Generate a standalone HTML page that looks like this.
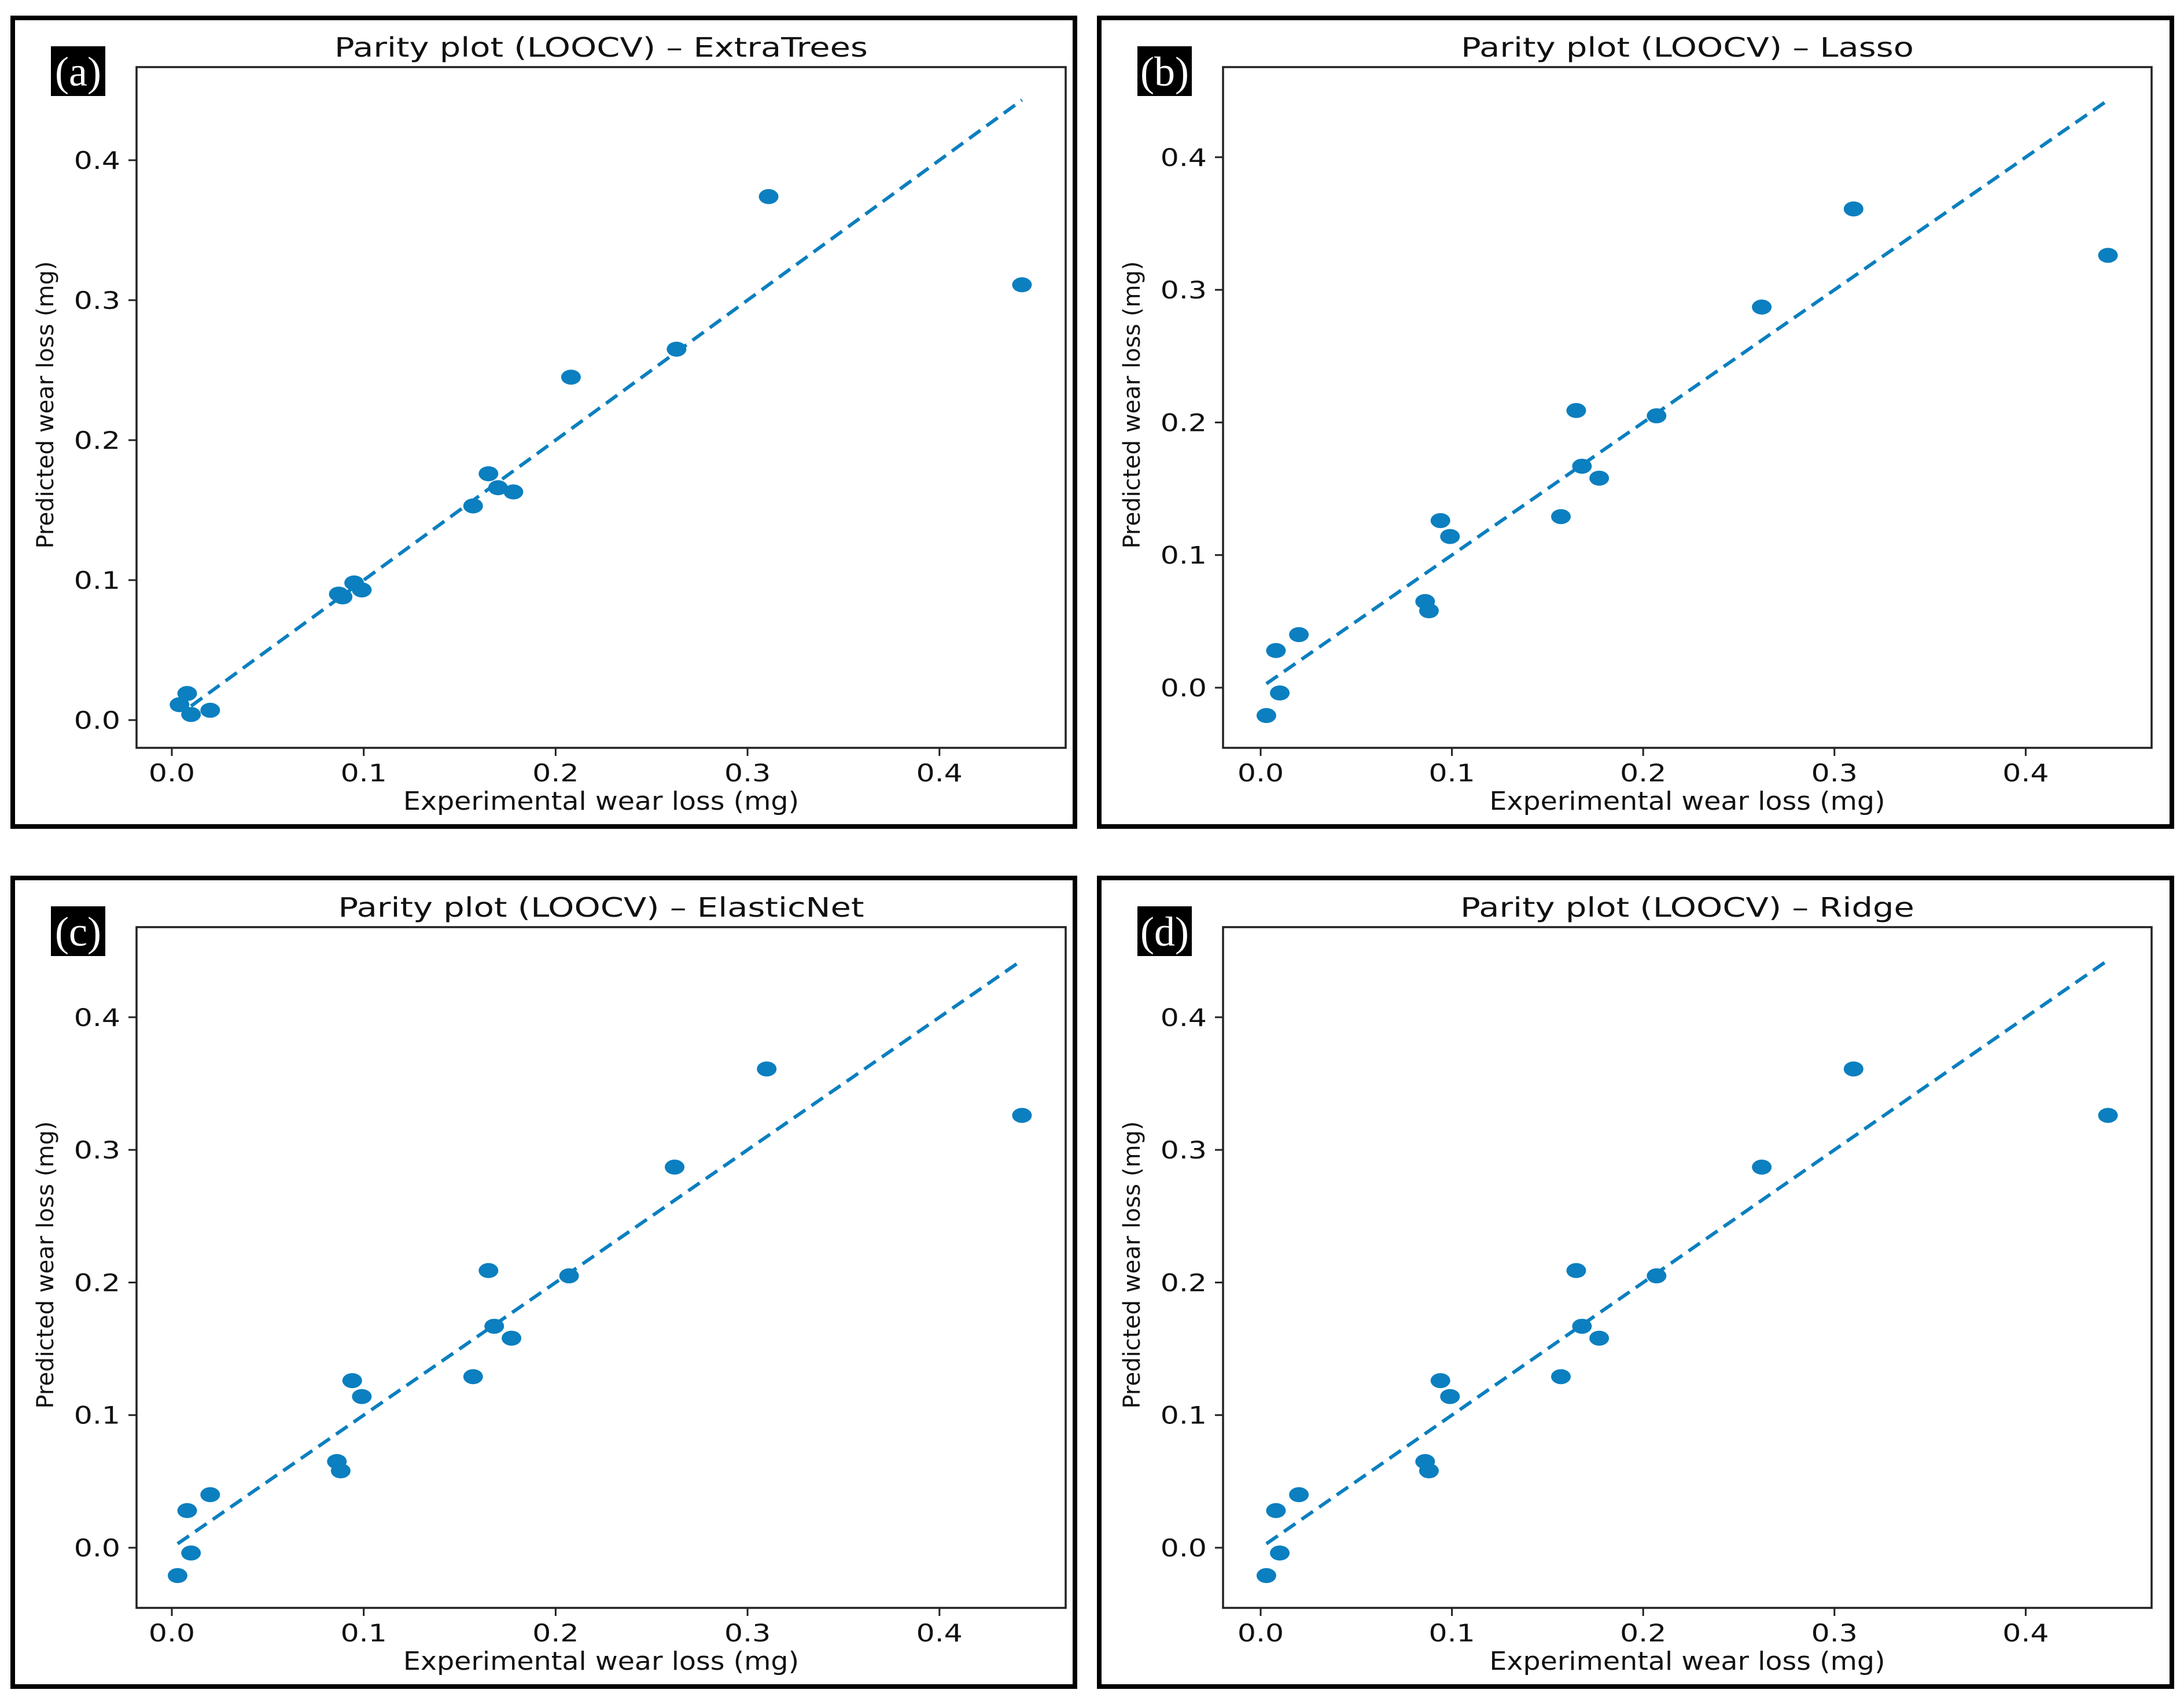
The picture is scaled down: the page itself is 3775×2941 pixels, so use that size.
<!DOCTYPE html>
<html><head><meta charset="utf-8"><style>
html,body{margin:0;padding:0;background:#fff;}
svg{display:block;}
text{font-family:"DejaVu Sans","Liberation Sans",sans-serif;fill:#111;}
</style></head><body>
<svg id="fig" width="3775" height="2941" viewBox="0 0 3775 2941" xmlns="http://www.w3.org/2000/svg"></svg>
<script>
// ---- data ----
const xTicks = [0.0, 0.1, 0.2, 0.3, 0.4];
const xTickLabels = ["0.0", "0.1", "0.2", "0.3", "0.4"];
const yTicks = [0.0, 0.1, 0.2, 0.3, 0.4];
const yTickLabels = ["0.0", "0.1", "0.2", "0.3", "0.4"];
const panelTitles = ["Parity plot (LOOCV) \u2013 ExtraTrees", "Parity plot (LOOCV) \u2013 Lasso", "Parity plot (LOOCV) \u2013 ElasticNet", "Parity plot (LOOCV) \u2013 Ridge"];
const panelLetters = ["(a)", "(b)", "(c)", "(d)"];
const expA = [0.004, 0.008, 0.010, 0.020, 0.087, 0.089, 0.095, 0.099, 0.157, 0.165, 0.170, 0.178, 0.208, 0.263, 0.311, 0.443];
const predA = [0.011, 0.019, 0.004, 0.007, 0.090, 0.088, 0.098, 0.093, 0.153, 0.176, 0.166, 0.163, 0.245, 0.265, 0.374, 0.311];
const expLin = [0.003, 0.008, 0.010, 0.020, 0.086, 0.088, 0.094, 0.099, 0.157, 0.165, 0.168, 0.177, 0.207, 0.262, 0.310, 0.443];
const predLasso = [-0.021, 0.028, -0.004, 0.040, 0.065, 0.058, 0.126, 0.114, 0.129, 0.209, 0.167, 0.158, 0.205, 0.287, 0.361, 0.326];
const predElastic = [-0.021, 0.028, -0.004, 0.040, 0.065, 0.058, 0.126, 0.114, 0.129, 0.209, 0.167, 0.158, 0.205, 0.287, 0.361, 0.326];
const predRidge = [-0.021, 0.028, -0.004, 0.040, 0.065, 0.058, 0.126, 0.114, 0.129, 0.209, 0.167, 0.158, 0.205, 0.287, 0.361, 0.326];
const lineA = [0.010, 0.443];
const lineLin = [0.003, 0.443];

const NS = "http://www.w3.org/2000/svg";
const svg = document.getElementById('fig');
function mk(tag, attrs, parent){
  const e = document.createElementNS(NS, tag);
  for (const k in attrs) e.setAttribute(k, attrs[k]);
  (parent||svg).appendChild(e);
  return e;
}
function stretch(t, f){
  const w = t.getComputedTextLength();
  t.setAttribute('textLength', (w*f).toFixed(1));
  t.setAttribute('lengthAdjust', 'spacingAndGlyphs');
}
const BLUE = "#0b7fbf";

const panels = [
  {col:0,row:0,xs:expA,ys:predA,line:lineA,y0:1245,yk:2420},
  {col:1,row:0,xs:expLin,ys:predLasso,line:lineLin,y0:1189,yk:2293},
  {col:0,row:1,xs:expLin,ys:predElastic,line:lineLin,y0:1189,yk:2293},
  {col:1,row:1,xs:expLin,ys:predRidge,line:lineLin,y0:1189,yk:2293}
];
const cols = [{ox:22,ow:1836,ax:236,aw:1606,x0:297,xk:3317},
              {ox:1900,ow:1854,ax:2114,aw:1605,x0:2179,xk:3306}];
const rowOff = [0, 1487];

panels.forEach((p, i) => {
  const c = cols[p.col], dy = rowOff[p.row];
  const g = mk('g', {});
  
  
  const sx = v => c.x0 + v * c.xk;
  const sy = v => dy + p.y0 - v * p.yk;
  const axTop = dy + 116, axBot = dy + 1293;
  const outer = mk('rect', {x:c.ox, y:dy+31, width:c.ow, height:1398, fill:'none', stroke:'#000', 'stroke-width':8}, g);
  
  
  const frame = mk('rect', {x:c.ax, y:axTop, width:c.aw, height:axBot-axTop, fill:'none', stroke:'#222', 'stroke-width':3.5}, g);
  
  
  xTicks.forEach((t, k) => {
    const x = sx(t);
    const tm = mk('line', {x1:x, x2:x, y1:axBot, y2:axBot+14, stroke:'#222', 'stroke-width':3}, g);
    
    
    const tl = mk('text', {x:x, y:axBot+58, 'font-size':42, 'text-anchor':'middle'}, g);
    tl.textContent = xTickLabels[k];
    
    
    stretch(tl, 1.2);
  });
  yTicks.forEach((t, k) => {
    const y = sy(t);
    const tm = mk('line', {x1:c.ax-14, x2:c.ax, y1:y, y2:y, stroke:'#222', 'stroke-width':3}, g);
    
    
    const tl = mk('text', {x:c.ax-28, y:y+15, 'font-size':42, 'text-anchor':'end'}, g);
    tl.textContent = yTickLabels[k];
    
    
    stretch(tl, 1.2);
  });
  const ln = mk('line', {x1:sx(p.line[0]), y1:sy(p.line[0]), x2:sx(p.line[1]), y2:sy(p.line[1]), stroke:BLUE, 'stroke-width':6, 'stroke-dasharray':'24 13'}, g);
  
  
  p.xs.forEach((xv, k) => {
    const d = mk('ellipse', {cx:sx(xv), cy:sy(p.ys[k]), rx:17, ry:13, fill:BLUE}, g);
    
    
  });
  const cx = c.ax + c.aw/2;
  const tt = mk('text', {x:cx, y:dy+98, 'font-size':46, 'text-anchor':'middle'}, g);
  tt.textContent = panelTitles[i];
  
  
  stretch(tt, 1.25);
  const xl = mk('text', {x:cx, y:dy+1400, 'font-size':44, 'text-anchor':'middle'}, g);
  xl.textContent = "Experimental wear loss (mg)";
  
  
  stretch(xl, 1.08);
  const lx = c.ox + 70, ly = dy + 700;
  const yl = mk('text', {x:lx, y:ly, 'font-size':40, 'text-anchor':'middle', transform:`rotate(-90 ${lx} ${ly})`}, g);
  yl.textContent = "Predicted wear loss (mg)";
  
  
  const bx = c.ox + 66, by = dy + 80;
  const lb = mk('rect', {x:bx, y:by, width:94, height:86, fill:'#000'}, g);
  
  
  const lt = mk('text', {x:bx+47, y:by+68, 'font-size':72, 'text-anchor':'middle', style:'font-family:"Liberation Serif",serif;fill:#fff'}, g);
  lt.textContent = panelLetters[i];
  
  
});
</script>
</body></html>
